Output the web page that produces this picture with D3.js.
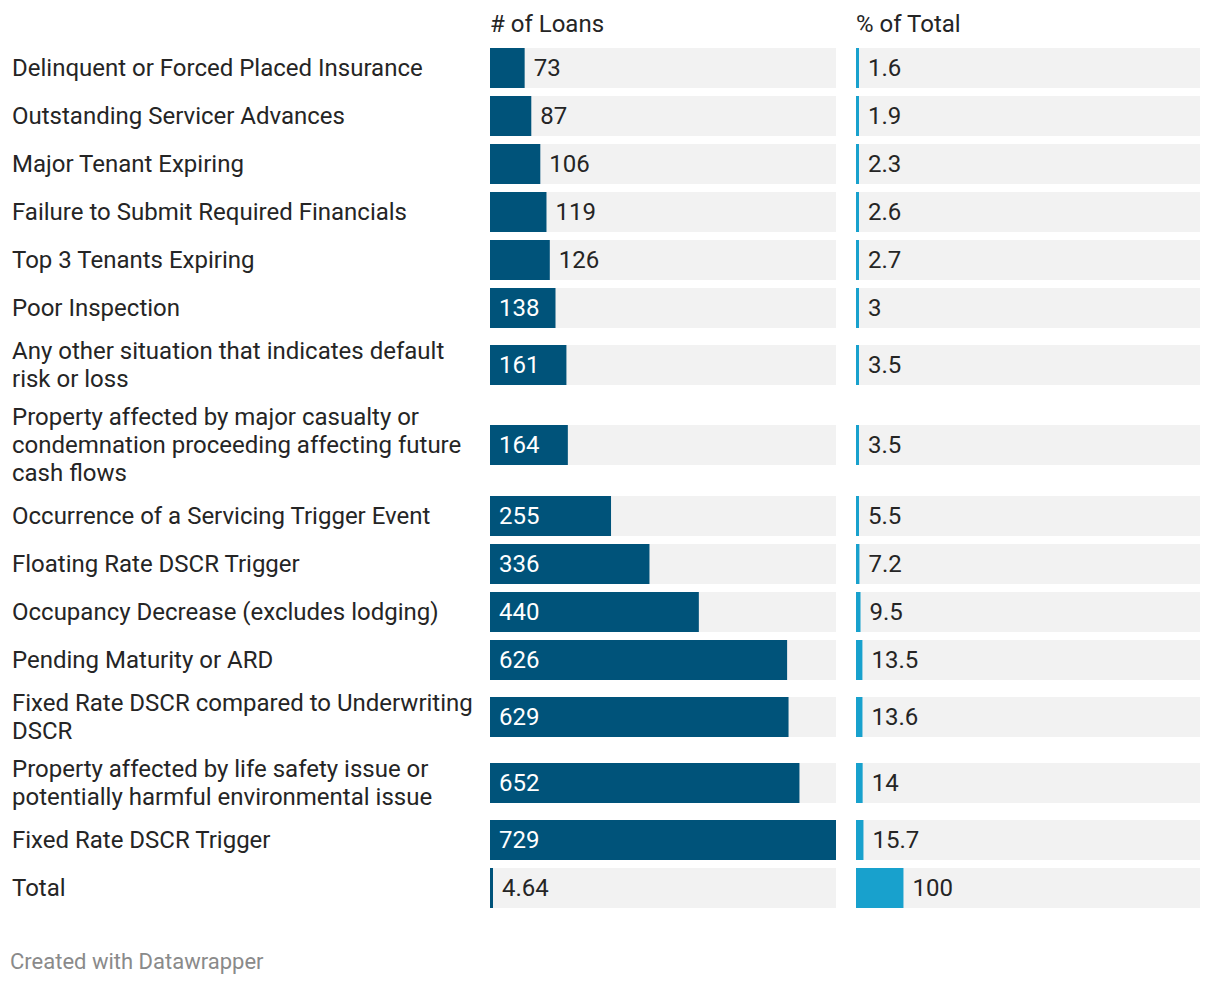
<!DOCTYPE html>
<html><head><meta charset="utf-8">
<script src="https://cdn.jsdelivr.net/npm/d3@7"></script>
<style>
html,body{margin:0;padding:0;background:#fff;}
svg{display:block;font-family:Roboto,"Noto Sans",sans-serif;}
</style></head>
<body>
<svg id="chart" width="1220" height="984"></svg>
<script>
const categories = [
  "Delinquent or Forced Placed Insurance",
  "Outstanding Servicer Advances",
  "Major Tenant Expiring",
  "Failure to Submit Required Financials",
  "Top 3 Tenants Expiring",
  "Poor Inspection",
  "Any other situation that indicates default risk or loss",
  "Property affected by major casualty or condemnation proceeding affecting future cash flows",
  "Occurrence of a Servicing Trigger Event",
  "Floating Rate DSCR Trigger",
  "Occupancy Decrease (excludes lodging)",
  "Pending Maturity or ARD",
  "Fixed Rate DSCR compared to Underwriting DSCR",
  "Property affected by life safety issue or potentially harmful environmental issue",
  "Fixed Rate DSCR Trigger",
  "Total"
];
const loans = [73, 87, 106, 119, 126, 138, 161, 164, 255, 336, 440, 626, 629, 652, 729, 4.64];
const pctTotal = [1.6, 1.9, 2.3, 2.6, 2.7, 3, 3.5, 3.5, 5.5, 7.2, 9.5, 13.5, 13.6, 14, 15.7, 100];
const columnHeaders = ["# of Loans", "% of Total"];
const footerText = "Created with Datawrapper";

const svg = d3.select("#chart");
const FS = 24, LH = 28;
const labelX = 12, labelMaxW = 468;
const col1X = 490, col1W = 346;
const col2X = 856, col2W = 344;
const textColor = "#252525";

// wrap labels by measurement
const meas = svg.append("text").attr("font-size", FS).attr("visibility", "hidden");
function wrap(str) {
  const words = str.split(" ");
  const lines = [];
  let cur = "";
  for (const w of words) {
    const t = cur ? cur + " " + w : w;
    meas.text(t);
    if (meas.node().getComputedTextLength() > labelMaxW && cur) {
      lines.push(cur); cur = w;
    } else cur = t;
  }
  lines.push(cur);
  return lines;
}
const rows = categories.map((c, i) => ({ label: c, lines: wrap(c), loans: loans[i], pct: pctTotal[i] }));
meas.remove();

let y = 44;
rows.forEach(r => {
  r.h = Math.max(48, r.lines.length * LH + 10);
  r.cy = y + r.h / 2;
  y += r.h;
});

const x = d3.scaleLinear().domain([0, d3.max(loans)]).range([0, col1W]);

// headers
svg.selectAll("text.hdr").data(columnHeaders).join("text")
  .attr("class", "hdr")
  .attr("x", (d, i) => i === 0 ? col1X : col2X)
  .attr("y", 24).attr("dy", "0.35em")
  .attr("font-size", FS).attr("fill", textColor)
  .text(d => d);

const g = svg.selectAll("g.row").data(rows).join("g").attr("class", "row");

// labels
g.append("text")
  .attr("x", labelX)
  .attr("font-size", FS).attr("fill", textColor)
  .each(function(d) {
    const t = d3.select(this);
    const top = d.cy - (d.lines.length - 1) * LH / 2;
    d.lines.forEach((ln, k) => {
      t.append("tspan").attr("x", labelX).attr("y", top + k * LH).attr("dy", "0.35em").text(ln);
    });
  });

function barCol(sel, x0, w, key, color, insideAllowed) {
  sel.append("rect")
    .attr("x", x0).attr("y", d => d.cy - 20)
    .attr("width", w).attr("height", 40)
    .attr("fill", "#f2f2f2");
  sel.append("rect")
    .attr("x", x0).attr("y", d => d.cy - 20)
    .attr("width", d => Math.max(3, x(d[key]))).attr("height", 40)
    .attr("fill", color);
  sel.append("text")
    .attr("y", d => d.cy).attr("dy", "0.35em")
    .attr("font-size", FS)
    .text(d => d3.format("~g")(d[key]))
    .each(function(d) {
      const bw = Math.max(3, x(d[key]));
      const tw = this.getComputedTextLength();
      const inside = insideAllowed && bw >= tw + 24;
      d3.select(this)
        .attr("x", inside ? x0 + 9 : x0 + bw + 9)
        .attr("fill", inside ? "#ffffff" : textColor);
    });
}
barCol(g, col1X, col1W, "loans", "#00537a", true);
barCol(g, col2X, col2W, "pct", "#18a1cd", true);

svg.append("text")
  .attr("x", 10).attr("y", 961).attr("dy", "0.35em")
  .attr("font-size", 22).attr("fill", "#8a8a8a")
  .text(footerText);
</script>
</body></html>
